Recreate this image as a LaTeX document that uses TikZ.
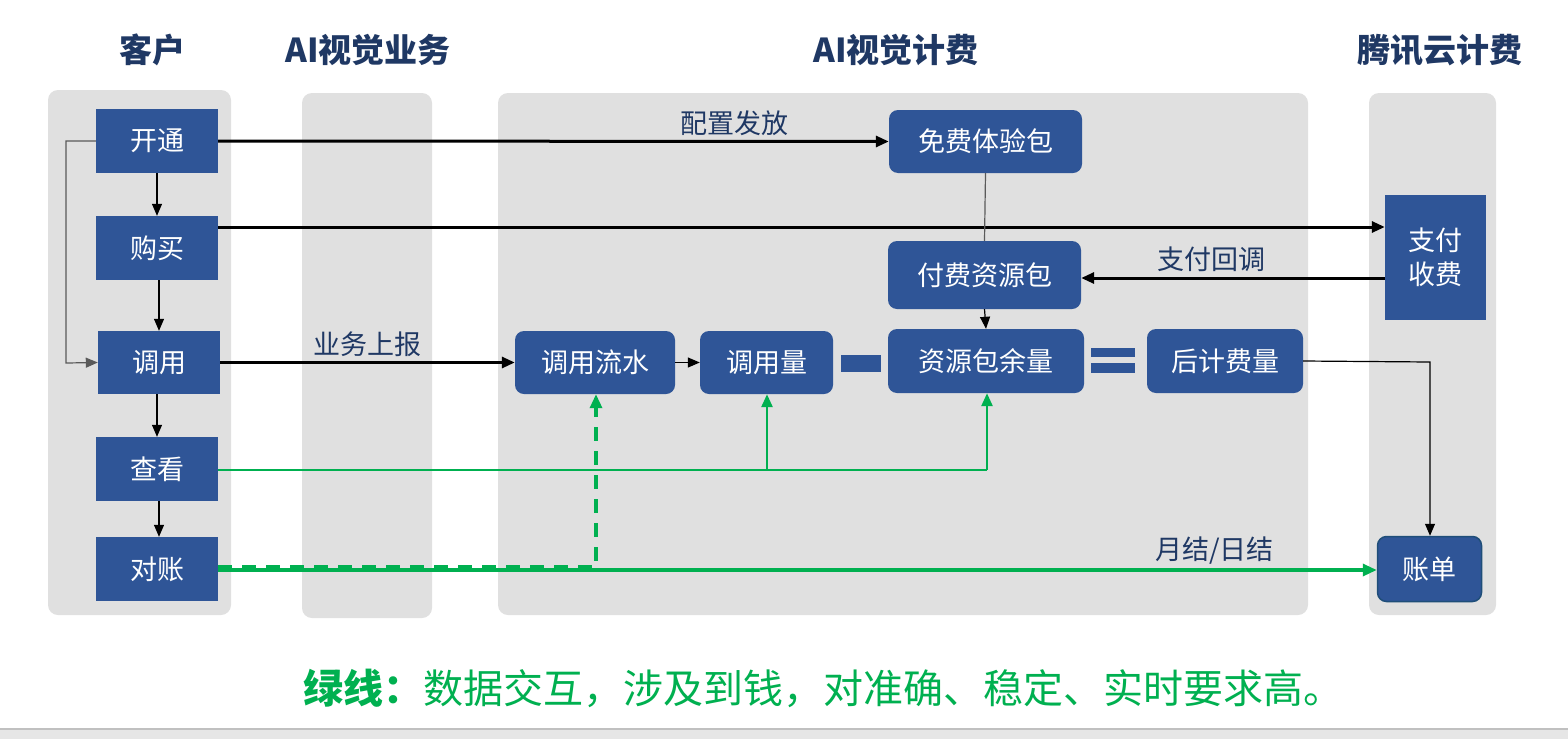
\documentclass[tikz,border=0pt]{standalone}
\usepackage{fontspec}
\setmainfont{Noto Sans CJK SC}
\usetikzlibrary{arrows.meta}
\definecolor{boxblue}{HTML}{2F5597}
\definecolor{navy}{HTML}{1F3864}
\definecolor{lane}{HTML}{E0E0E0}
\definecolor{gline}{HTML}{00B050}
\definecolor{strip}{HTML}{E6E6E6}
\definecolor{stripline}{HTML}{C0C0C0}
\definecolor{greyline}{HTML}{5A5A5A}
\definecolor{zdborder}{HTML}{1F4E79}
\tikzset{
  lanebg/.style={fill=lane, draw=none, rounded corners=10pt},
  sqbox/.style={fill=boxblue, draw=none, text=white, font=\fontsize{27}{30}\selectfont, inner sep=0pt, align=center},
  rbox/.style={sqbox, rounded corners=9pt},
  hdr/.style={text=navy, font=\fontsize{33}{36}\selectfont\bfseries},
  lbl/.style={text=navy, font=\fontsize{27}{30}\selectfont},
  thick arrow/.style={line width=3pt, -{Triangle[length=13pt,width=11pt]}},
  thin arrow/.style={line width=1.2pt, -{Triangle[length=12pt,width=10pt]}},
  green arrow/.style={draw=gline, line width=3.2pt, -{Triangle[length=14pt,width=12pt]}},
  gthin arrow/.style={draw=gline, line width=2.6pt, -{Triangle[length=13pt,width=11pt]}},
}
\begin{document}
\begin{tikzpicture}[x=1pt,y=-1pt]
\useasboundingbox (0,0) rectangle (1568,739);
\fill[white] (0,0) rectangle (1568,739);
% bottom strip
\fill[strip] (0,729) rectangle (1568,739);
\draw[line width=1.5pt, stripline] (0,729) -- (1568,729);
% lanes
\fill[lanebg] (48,90) rectangle (231,615);
\fill[lanebg] (302,93) rectangle (432,618);
\fill[lanebg] (498,93) rectangle (1308,615);
\fill[lanebg] (1369,93) rectangle (1496,615);
% headers
\node[hdr] (h1) at (152,50) {客户};
\node[hdr] (h2) at (368,50) {AI视觉业务};
\node[hdr] (h3) at (896,50) {AI视觉计费};
\node[hdr] (h4) at (1440,50) {腾讯云计费};
% customer boxes
\node[sqbox, minimum width=122pt, minimum height=64pt] (kt) at (157,141) {开通};
\node[sqbox, minimum width=122pt, minimum height=64pt] (gm) at (157,248) {购买};
\node[sqbox, minimum width=122pt, minimum height=63pt] (dy) at (159,362.5) {调用};
\node[sqbox, minimum width=122pt, minimum height=64pt] (ck) at (157,469) {查看};
\node[sqbox, minimum width=122pt, minimum height=64pt] (dz) at (157,569) {对账};
% billing boxes
\node[rbox, minimum width=193pt, minimum height=63pt] (mf) at (985.5,141.5) {免费体验包};
\node[rbox, minimum width=193pt, minimum height=68pt] (ff) at (984.5,275) {付费资源包};
\node[rbox, minimum width=160pt, minimum height=63pt] (ls) at (595,362.5) {调用流水};
\node[rbox, minimum width=133pt, minimum height=63pt] (yl) at (766.5,362.5) {调用量};
\node[rbox, minimum width=196pt, minimum height=64pt] (ye) at (986,361) {资源包余量};
\node[rbox, minimum width=156pt, minimum height=64pt] (hj) at (1225,361) {后计费量};
\node[sqbox, minimum width=101pt, minimum height=125pt, align=center, font=\fontsize{27}{34}\selectfont] (zf) at (1435.5,257.5) {支付\\收费};
\node[rbox, draw=zdborder, line width=1.5pt, minimum width=104pt, minimum height=65pt] (zd) at (1429.5,569) {账单};
% minus and equals
\fill[boxblue] (841,355) rectangle (881,372);
\fill[boxblue] (1091,348) rectangle (1135,357);
\fill[boxblue] (1091,363) rectangle (1135,373);
% coordinates
\coordinate (c1) at (66,141);
\coordinate (c2) at (66,363);
\coordinate (c3) at (1430,362);
\coordinate (g1) at (767,470);
\coordinate (g2) at (987,470);
\coordinate (d1) at (596,567);
% customer column arrows
\draw[thin arrow] (kt.south) -- (gm.north);
\draw[thin arrow] (gm.south -| 159,0) -- (dy.north -| 159,0);
\draw[thin arrow] (dy.south -| 157,0) -- (ck.north -| 157,0);
\draw[thin arrow] (ck.south -| 159,0) -- (dz.north -| 159,0);
\draw[thin arrow, draw=greyline] (kt.west) -- (c1) -- (c2) -- (dy.west);
% thick black arrows
\draw[thick arrow] (kt.east) -- node[lbl, above=1pt, pos=0.77] (l1) {配置发放} (mf.west);
\draw[thick arrow] (gm.east |- 0,227) -- (zf.west |- 0,227);
\draw[thick arrow] (zf.west |- 0,278) -- node[lbl, above=1pt, pos=0.57] (l2) {支付回调} (ff.east |- 0,278);
\draw[thick arrow] (dy.east) -- node[lbl, above=1pt, pos=0.5] (l3) {业务上报} (ls.west);
\draw[thin arrow] (ls.east) -- (yl.west);
\draw[line width=1.2pt, draw=greyline] (mf.south) -- (ff.north);
\draw[thin arrow] (ff.south) -- (ye.north);
\draw[thin arrow] (hj.east) -- (c3) -- (zd.north -| c3);
% green lines
\draw[draw=gline, line width=2.6pt] (ck.east |- 0,470) -- (g2);
\draw[gthin arrow] (g2) -- (ye.south -| g2);
\draw[gthin arrow] (g1) -- (yl.south -| g1);
\draw[green arrow, dash pattern=on 14pt off 10pt] (dz.east |- d1) -- (d1) -- (ls.south -| d1);
\draw[green arrow] (dz.east |- 0,570) -- node[lbl, above=1pt, pos=0.86] (l4) {月结/日结} (zd.west |- 0,570);
% legend
\node[text=gline, font=\fontsize{40}{42}\selectfont, anchor=west] (leg) at (300,688) {\textbf{绿线：}数据交互，涉及到钱，对准确、稳定、实时要求高。};
\end{tikzpicture}
\end{document}
